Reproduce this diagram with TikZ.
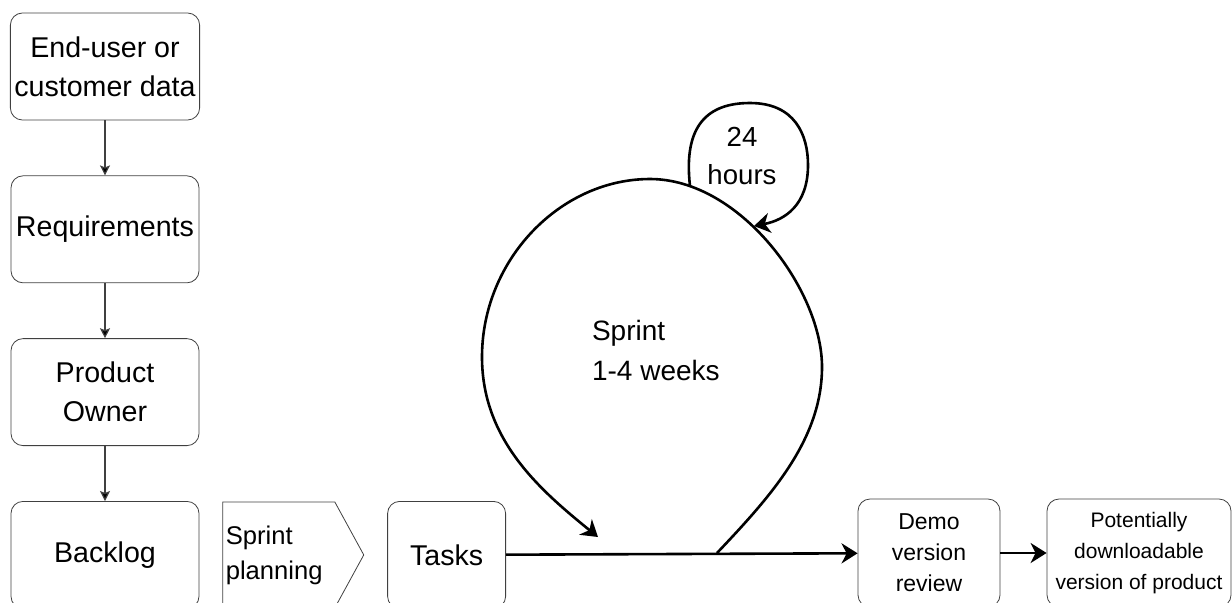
\documentclass[tikz,border=0pt]{standalone}
\usepackage{fontspec}
\setmainfont{Liberation Sans}
\usetikzlibrary{chains,positioning,arrows.meta,shapes.symbols}

\begin{document}
\begin{tikzpicture}[
x=0.5pt,y=-0.5pt,
mybox/.style={
  draw=black!75,
  rounded corners=6pt,
  align=center,
  minimum width=94pt,
  minimum height=53.5pt,
  inner sep=2pt,
  font=\fontsize{14.3}{19.5}\selectfont
  },
smallbox/.style={mybox,font=\fontsize{11.5}{15.5}\selectfont},
thinarrow/.style={draw=black!75,line width=0.6pt,-{Stealth[length=5pt,width=5pt,inset=1pt]}},
thickarrow/.style={line width=1.3pt,-{Stealth[length=8pt,width=10pt,inset=2.5pt]}},
start chain=going below,
node distance=27.5pt
]
\useasboundingbox (0,0) rectangle (1232,602);
% left column
\node[mybox,on chain] (user) at (105,66.5) {End-user or\\customer data};
\foreach \Name/\Text in {req/Requirements,owner/{Product\\Owner},backlog/Backlog}
  \node[mybox,on chain] (\Name) {\Text};
\path[thinarrow]
	(user) edge (req)
	(req) edge (owner)
	(owner) edge (backlog);
% bottom row
\node[draw=black!75,signal,signal to=east,signal pointer angle=122.7,
  minimum height=53pt,text width=53pt,inner xsep=1.5pt,align=left,
  font=\fontsize{12.8}{17.5}\selectfont,right=11.5pt of backlog] (plan) {Sprint\\planning};
\node[mybox,minimum width=59pt,right=11.5pt of plan] (tasks) {Tasks};
\node[smallbox,minimum width=71pt,minimum height=54pt] (demo) at (929,553) {Demo\\version\\review};
\node[smallbox,minimum width=92pt,minimum height=54pt,font=\fontsize{10.5}{15.5}\selectfont] (product) at (1139,553) {Potentially\\downloadable\\version of product};
\draw[thickarrow] (tasks) -- (demo);
\draw[thickarrow] (demo) -- (product);
% sprint loop
\coordinate (loopstart) at (717,553);
\coordinate (loopend) at (598,537);
\draw[thickarrow] (loopstart) .. controls (770,497) and (822,440) .. (822,367)
	.. controls (822,290) and (740,179) .. (650,179)
	.. controls (560,179) and (482,260) .. (482,357)
	.. controls (482,440) and (540,490) .. (loopend);
\node[align=left,anchor=west,font=\fontsize{14}{20}\selectfont] (sprintlbl) at (585,350) {Sprint\\1-4 weeks};
% daily loop
\coordinate (daystart) at (690,186);
\coordinate (dayend) at (754,226);
\draw[thickarrow] (daystart) .. controls (683,125) and (708,103) .. (750,103)
	.. controls (795,103) and (808,135) .. (808,165)
	.. controls (808,205) and (785,220) .. (dayend);
\node[align=center,font=\fontsize{13.8}{19}\selectfont] (daylbl) at (742,156) {24\\hours};
\end{tikzpicture}
\end{document}
